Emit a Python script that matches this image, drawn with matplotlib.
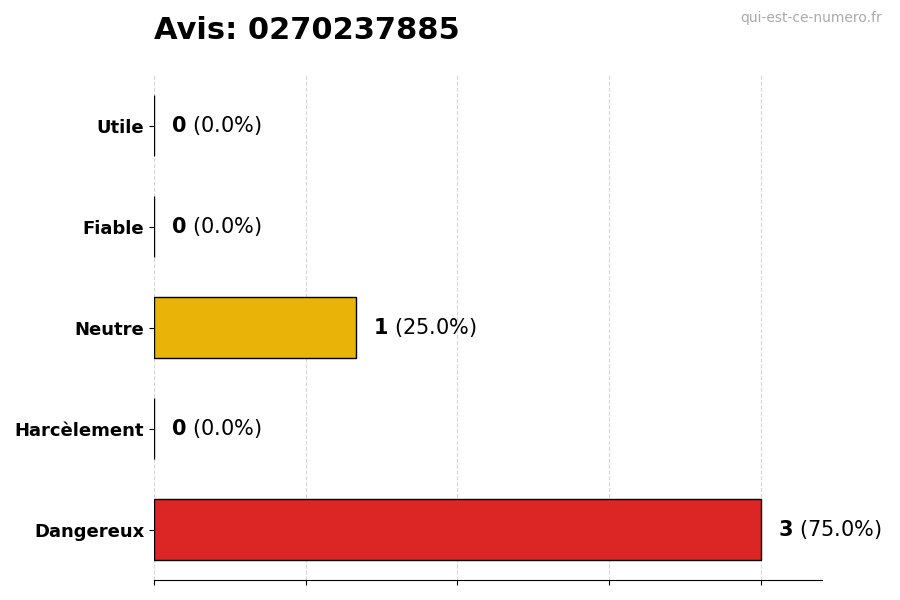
import matplotlib

matplotlib.use("Agg")

import matplotlib.pyplot as plt

categories = ["Dangereux", "Harcèlement", "Neutre", "Fiable", "Utile"]
counts = [3, 0, 1, 0, 0]
colors = ["#dc2626", "#7f1d1d", "#eab308", "#65a30d", "#16a34a"]
title = "Avis: 0270237885"
watermark = "qui-est-ce-numero.fr"

total = sum(counts)

fig = plt.figure(figsize=(9, 6), dpi=100)
ax = fig.add_axes([0.171, 0.033, 0.742, 0.842])

ax.barh(range(len(categories)), counts, height=0.6, color=colors,
        edgecolor="black", linewidth=1)

for i, c in enumerate(counts):
    pct = 100 * c / total
    ax.annotate(f"$\\bf{{{c}}}$ ({pct:.1f}%)", xy=(c, i), xytext=(12, 0),
                textcoords="offset points", va="center", ha="left", fontsize=15)

ax.set_yticks(range(len(categories)))
ax.set_yticklabels(categories, fontsize=13, fontweight="bold")
ax.set_xticks([0, 0.75, 1.5, 2.25, 3])
ax.set_xticklabels([])
ax.set_xlim(0, 3.3)
ax.set_ylim(-0.5, 4.5)
ax.grid(axis="x", linestyle="--", color="#cccccc", alpha=0.8)
ax.set_axisbelow(True)
for side in ["top", "right", "left"]:
    ax.spines[side].set_visible(False)

fig.text(0.171, 0.925, title, fontsize=22, fontweight="bold", ha="left", va="bottom")
fig.text(0.98, 0.97, watermark, fontsize=10, color="#aaaaaa", ha="right", va="center")

fig.savefig("out.png", dpi=100)
